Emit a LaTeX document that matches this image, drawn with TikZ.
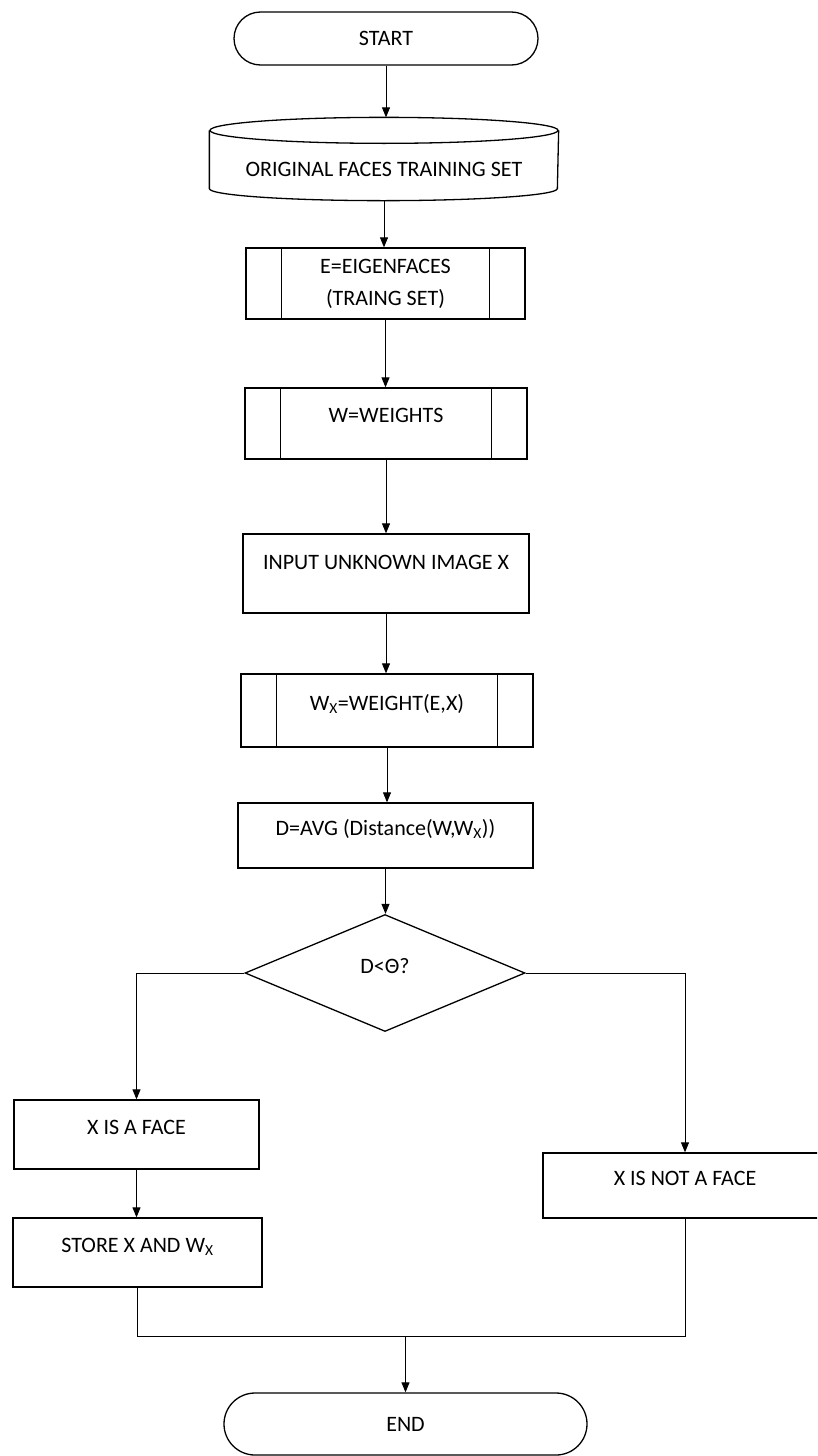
\documentclass[tikz,border=0pt]{standalone}
\usepackage{fontspec}
\setmainfont{Carlito}
\usetikzlibrary{shapes.geometric,shapes.misc,arrows.meta}

\begin{document}
\begin{tikzpicture}[x=1pt,y=-1pt,line width=1.3pt,>={Triangle[length=10pt,width=8pt]},font=\fontsize{22}{32}\selectfont,
  box/.style={draw,rectangle,inner sep=2pt,text height=14pt,text depth=14pt},
  term/.style={draw,rounded rectangle,inner sep=2pt},
  link/.style={line width=0.9pt}]
  \useasboundingbox (0,0) rectangle (817,1456);
  \clip (0,0) rectangle (817,1456);
  \node[term,minimum width=308pt,minimum height=53pt] (start) at (386,38.5) {START};
  \node[inner sep=0pt,minimum width=348pt,minimum height=82pt,text height=35pt,text depth=0pt] (train) at (384,159) {ORIGINAL FACES TRAINING SET};
  \draw ([yshift=-13pt]train.north) ellipse [x radius=174pt,y radius=13pt];
  \draw ([yshift=-13pt]train.north west) -- ([yshift=12pt]train.south west) arc[start angle=180,end angle=360,x radius=174pt,y radius=12pt] -- ([yshift=-13pt]train.north east);
  \node[draw,align=center,minimum width=279pt,minimum height=71pt] (eig) at (385.5,283.5) {E=EIGENFACES\\(TRAING SET)};
  \node[box,text depth=16pt,minimum width=282pt,minimum height=71pt] (wts) at (386,423.5) {W=WEIGHTS};
  \node[box,text depth=22pt,minimum width=286pt,minimum height=79pt] (inp) at (386,573.5) {INPUT UNKNOWN IMAGE X};
  \node[box,minimum width=292pt,minimum height=73pt] (wtx) at (387,710.5) {W\textsubscript{X}=WEIGHT(E,X)};
  \node[box,text depth=15pt,minimum width=295pt,minimum height=65pt] (dist) at (385.5,835.5) {D=AVG (Distance(W,W\textsubscript{X}))};
  \node[draw,diamond,inner sep=0pt,minimum width=280pt,minimum height=117pt,text height=14pt,text depth=14pt] (test) at (385,973) {D<Θ?};
  \node[box,text depth=15pt,minimum width=245pt,minimum height=69pt] (face) at (136.5,1134.5) {X IS A FACE};
  \node[box,minimum width=249pt,minimum height=69pt] (store) at (137.5,1252.5) {STORE X AND W\textsubscript{X}};
  \node[box,minimum width=284pt,minimum height=65pt] (notface) at (685,1185.5) {X IS NOT A FACE};
  \node[term,minimum width=367pt,minimum height=62pt] (finish) at (405.5,1424) {END};
  \coordinate (join) at ([yshift=56pt]finish.north);
  \foreach \n in {eig,wts,wtx} \draw ([xshift=36pt]\n.north west) -- ([xshift=36pt]\n.south west) ([xshift=-36pt]\n.north east) -- ([xshift=-36pt]\n.south east);
  \draw[link,->] (start.south) -- (start.south |- train.north); \draw[link,->] (train.south) -- (train.south |- eig.north);
  \draw[link,->] (eig.south) -- (eig.south |- wts.north); \draw[link,->] (wts.south) -- (wts.south |- inp.north);
  \draw[link,->] (inp.south) -- (inp.south |- wtx.north); \draw[link,->] (wtx.south) -- (wtx.south |- dist.north);
  \draw[link,->] (dist.south) -- (dist.south |- test.north);
  \draw[link,->] (test.west) -| (face.north); \draw[link,->] (test.east) -| (notface.north);
  \draw[link,->] (face.south) -- (face.south |- store.north);
  \draw[link] (store.south) |- (join) -| (notface.south); \draw[link,->] (join) -- (finish.north);
\end{tikzpicture}
\end{document}
